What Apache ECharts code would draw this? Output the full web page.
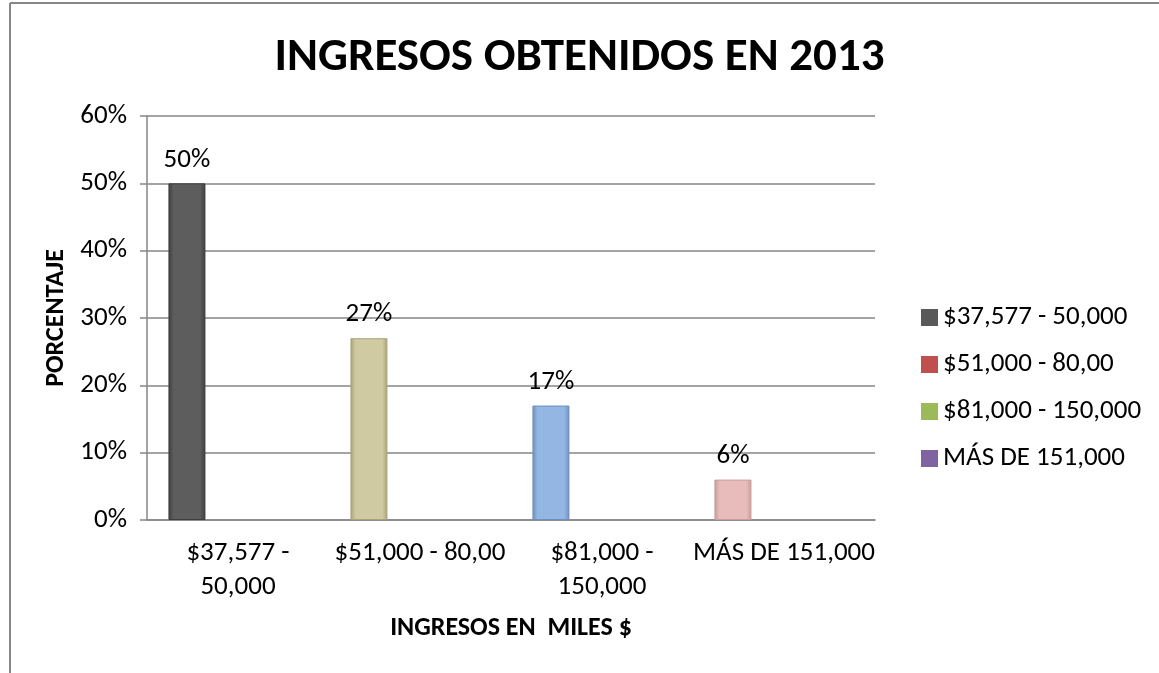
<!DOCTYPE html>
<html>
<head>
<meta charset="utf-8">
<script src="https://cdn.jsdelivr.net/npm/echarts@6/dist/echarts.min.js"></script>
<style>
  html, body { margin: 0; padding: 0; background: #fff; }
  #chart { width: 1159px; height: 673px; }
</style>
</head>
<body>
<div id="chart"></div>
<script>
const categories = ['$37,577 - 50,000', '$51,000 - 80,00', '$81,000 - 150,000', 'MÁS DE 151,000'];
const values = [50, 27, 17, 6];
const barColors = [
  ['#3e3e3e', '#5d5d5d'],
  ['#a9a37c', '#d0caa2'],
  ['#6d8fbb', '#93b6e2'],
  ['#c79c9b', '#e8bcbb']
];
const legendColors = ['#595959', '#c0504d', '#9bbb59', '#8064a2'];
const yTicks = [0, 10, 20, 30, 40, 50, 60];

const font = 'Carlito, Calibri, Lato, sans-serif';

const chart = echarts.init(document.getElementById('chart'));

function bevel(c) {
  return {
    type: 'linear', x: 0, y: 0, x2: 1, y2: 0,
    colorStops: [
      { offset: 0, color: c[0] },
      { offset: 0.14, color: c[1] },
      { offset: 0.86, color: c[1] },
      { offset: 1, color: c[0] }
    ]
  };
}

// first series holds all values, the other three only exist for the legend
const series = categories.map((name, i) => ({
  name: name,
  type: 'bar',
  barWidth: 37,
  barGap: '-8%',
  itemStyle: { color: legendColors[i] },
  data: i === 0
    ? values.map((v, j) => ({ value: v, itemStyle: { color: bevel(barColors[j]), borderColor: barColors[j][0], borderWidth: 1 } }))
    : categories.map(() => '-'),
  label: i === 0 ? {
    show: true, position: 'top', distance: 10,
    formatter: p => p.value + '%',
    color: '#000', fontSize: 27, fontFamily: font
  } : { show: false }
}));

chart.setOption({
  animation: false,
  title: {
    text: 'INGRESOS OBTENIDOS EN 2013',
    left: 'center', top: 30,
    textStyle: { fontSize: 47, fontWeight: 'bold', color: '#000', fontFamily: font }
  },
  // chart frame (top and left edges are what shows in the picture)
  graphic: [
    { type: 'line', shape: { x1: 10, y1: 3, x2: 1159, y2: 3 }, style: { stroke: '#868686', lineWidth: 2 } },
    { type: 'line', shape: { x1: 10, y1: 3, x2: 10, y2: 673 }, style: { stroke: '#868686', lineWidth: 2 } }
  ],
  legend: {
    orient: 'vertical', left: 916, top: 299,
    itemWidth: 17, itemHeight: 17, itemGap: 20, icon: 'rect',
    textStyle: { fontSize: 27, color: '#000', fontFamily: font },
    data: categories
  },
  grid: { left: 147, right: 284, top: 116, bottom: 153 },
  xAxis: {
    type: 'category',
    data: categories,
    name: 'INGRESOS EN  MILES $',
    nameLocation: 'middle', nameGap: 95,
    nameTextStyle: { fontSize: 26, fontWeight: 'bold', color: '#000', fontFamily: font },
    axisLine: { lineStyle: { color: '#868686', width: 1.5 } },
    axisTick: { show: false },
    axisLabel: {
      interval: 0, hideOverlap: false,
      color: '#000', fontSize: 27, fontFamily: font, margin: 16, lineHeight: 34,
      formatter: s => s.length > 15 ? s.replace(' - ', ' -\n') : s
    }
  },
  yAxis: {
    type: 'value', min: 0, max: 60, interval: 10,
    name: 'PORCENTAJE',
    nameLocation: 'middle', nameGap: 72,
    nameTextStyle: { fontSize: 26, fontWeight: 'bold', color: '#000', fontFamily: font },
    axisLine: { show: true, lineStyle: { color: '#868686', width: 1.5 } },
    axisTick: { show: true, length: 7, lineStyle: { color: '#868686', width: 1.5 } },
    splitLine: { lineStyle: { color: '#868686', width: 1.5 } },
    axisLabel: {
      color: '#000', fontSize: 27, fontFamily: font, margin: 20,
      formatter: v => yTicks.includes(v) ? v + '%' : ''
    }
  },
  series: series
});
</script>
</body>
</html>
